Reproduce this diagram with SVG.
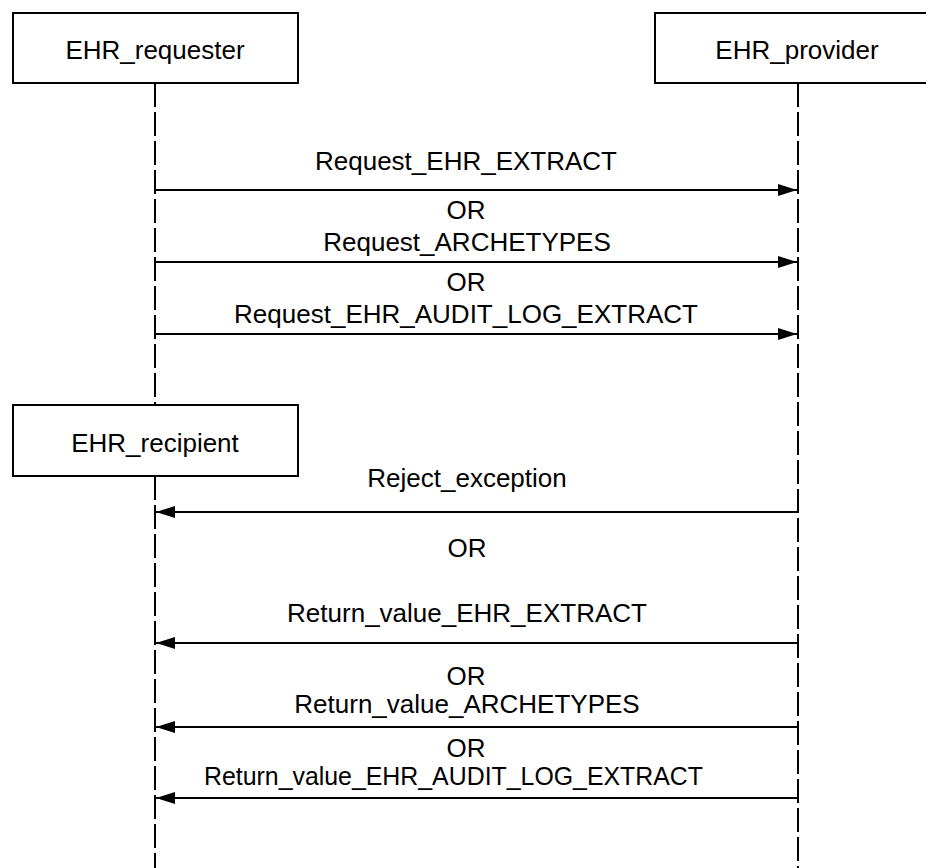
<svg xmlns="http://www.w3.org/2000/svg" width="926" height="868" viewBox="0 0 926 868">
<style>
.box{fill:#fff;stroke:#000;stroke-width:2}
.life{stroke:#000;stroke-width:2;stroke-dasharray:24 5;fill:none}
.msg{stroke:#000;stroke-width:2.2;fill:none}
text{font-family:"Liberation Sans",Arial,sans-serif;font-size:26px;fill:#000;text-anchor:middle}
</style>
<defs>
<marker id="ah" viewBox="0 0 19 12" refX="19" refY="6" markerWidth="19" markerHeight="12" markerUnits="userSpaceOnUse" orient="auto">
<path d="M0,0 L19,6 L0,12 Z" fill="#000"/>
</marker>
</defs>
<rect width="926" height="868" fill="#fff"/>
<g id="lifelines">
<line class="life" x1="155" y1="83" x2="155" y2="405"/>
<line class="life" x1="155" y1="476" x2="155" y2="868"/>
<line class="life" x1="798" y1="83" x2="798" y2="868"/>
</g>
<g id="EHR_requester">
<rect class="box" x="13" y="13" width="285" height="70"/>
<text x="155" y="59">EHR_requester</text>
</g>
<g id="EHR_provider">
<rect class="box" x="655" y="13" width="285" height="70"/>
<text x="797" y="59">EHR_provider</text>
</g>
<g id="EHR_recipient">
<rect class="box" x="13" y="405" width="285" height="71"/>
<text x="155" y="452">EHR_recipient</text>
</g>
<g id="connectors">
<line class="msg" x1="155" y1="190" x2="797" y2="190" marker-end="url(#ah)"/>
<line class="msg" x1="155" y1="262" x2="797" y2="262" marker-end="url(#ah)"/>
<line class="msg" x1="155" y1="334" x2="797" y2="334" marker-end="url(#ah)"/>
<line class="msg" x1="798" y1="512" x2="156" y2="512" marker-end="url(#ah)"/>
<line class="msg" x1="798" y1="643" x2="156" y2="643" marker-end="url(#ah)"/>
<line class="msg" x1="798" y1="727" x2="156" y2="727" marker-end="url(#ah)"/>
<line class="msg" x1="798" y1="798" x2="156" y2="798" marker-end="url(#ah)"/>
</g>
<g id="labels">
<text x="466" y="170">Request_EHR_EXTRACT</text>
<text x="466" y="219">OR</text>
<text x="467" y="251">Request_ARCHETYPES</text>
<text x="466" y="291">OR</text>
<text x="466" y="323">Request_EHR_AUDIT_LOG_EXTRACT</text>
<text x="467" y="487">Reject_exception</text>
<text x="467" y="557">OR</text>
<text x="467" y="622">Return_value_EHR_EXTRACT</text>
<text x="466" y="685">OR</text>
<text x="467" y="713">Return_value_ARCHETYPES</text>
<text x="466" y="757">OR</text>
<text x="453.5" y="785" textLength="499" lengthAdjust="spacingAndGlyphs">Return_value_EHR_AUDIT_LOG_EXTRACT</text>
</g>
</svg>
